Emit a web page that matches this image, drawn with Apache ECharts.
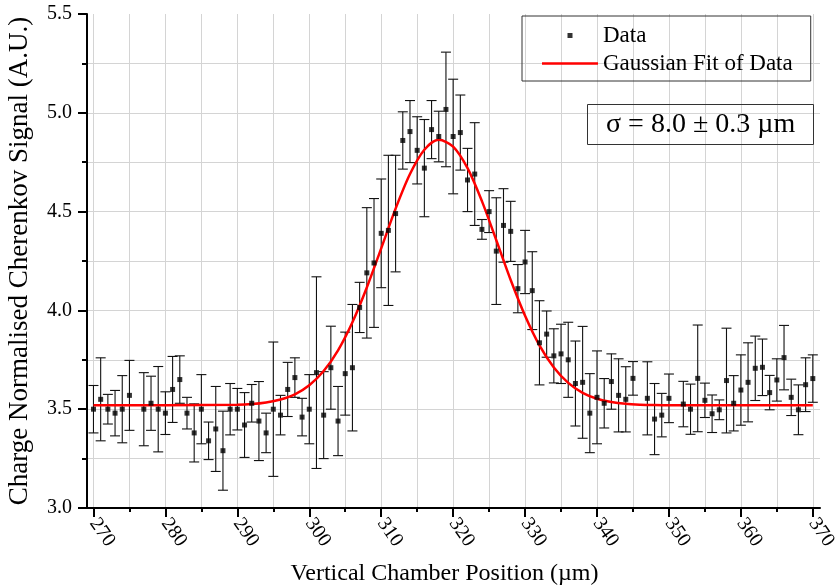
<!DOCTYPE html>
<html>
<head>
<meta charset="utf-8">
<script src="https://cdn.jsdelivr.net/npm/echarts@6/dist/echarts.min.js"></script>
<style>
html,body{margin:0;padding:0;background:#fff;}
#chart{width:835px;height:586px;}
</style>
</head>
<body>
<div id="chart"></div>
<script>
// Measured data: position (µm), normalised signal, error (±)
const positions = [
  270, 271, 272, 273, 274, 275, 277, 278, 279, 280,
  281, 282, 283, 284, 285, 286, 287, 288, 289, 290,
  291, 292, 293, 294, 295, 296, 297, 298, 299, 300,
  301, 302, 303, 304, 305, 306, 307, 308, 309, 310,
  311, 312, 313, 314, 315, 316, 317, 318, 319, 320,
  321, 322, 323, 324, 325, 326, 327, 328, 329, 330,
  331, 332, 333, 334, 335, 336, 337, 338, 339, 340,
  341, 342, 343, 344, 345, 347, 348, 349, 350, 352,
  353, 354, 355, 356, 357, 358, 359, 360, 361, 362,
  363, 364, 365, 366, 367, 368, 369, 370
];
const signal = [
  3.50, 3.55, 3.50, 3.48, 3.50, 3.57, 3.50, 3.53, 3.50, 3.48,
  3.60, 3.65, 3.48, 3.38, 3.50, 3.34, 3.40, 3.29, 3.50, 3.50,
  3.42, 3.53, 3.44, 3.38, 3.50, 3.47, 3.60, 3.66, 3.46, 3.50,
  3.685, 3.47, 3.71, 3.44, 3.68, 3.71, 4.015, 4.19, 4.24, 4.39,
  4.405, 4.49, 4.86, 4.905, 4.81, 4.72, 4.915, 4.88, 5.017, 4.88,
  4.90, 4.66, 4.69, 4.41, 4.50, 4.30, 4.43, 4.40, 4.11, 4.245,
  4.10, 3.836, 3.88, 3.77, 3.78, 3.75, 3.63, 3.636, 3.48, 3.56,
  3.53, 3.64, 3.57, 3.55, 3.656, 3.555, 3.45, 3.47, 3.555, 3.526,
  3.50, 3.656, 3.545, 3.477, 3.497, 3.645, 3.53, 3.597, 3.636, 3.707,
  3.712, 3.584, 3.648, 3.761, 3.56, 3.497, 3.624, 3.655
];
const errors = [
  0.12, 0.21, 0.075, 0.115, 0.17, 0.177, 0.185, 0.137, 0.216, 0.108,
  0.167, 0.12, 0.08, 0.147, 0.175, 0.095, 0.215, 0.2, 0.13, 0.105,
  0.164, 0.095, 0.2, 0.1, 0.34, 0.1, 0.137, 0.1, 0.095, 0.175,
  0.485, 0.22, 0.21, 0.175, 0.21, 0.32, 0.127, 0.33, 0.326, 0.275,
  0.38, 0.295, 0.145, 0.157, 0.17, 0.246, 0.147, 0.128, 0.29, 0.29,
  0.19, 0.16, 0.26, 0.05, 0.106, 0.27, 0.186, 0.152, 0.122, 0.16,
  0.197, 0.213, 0.117, 0.137, 0.15, 0.19, 0.215, 0.283, 0.2, 0.235,
  0.125, 0.14, 0.185, 0.165, 0.085, 0.185, 0.18, 0.11, 0.123, 0.115,
  0.127, 0.27, 0.087, 0.095, 0.05, 0.265, 0.14, 0.178, 0.2, 0.163,
  0.143, 0.087, 0.107, 0.163, 0.092, 0.126, 0.136, 0.12
];

// Gaussian fit curve
const fitX = [270, 280, 290, 292, 294, 296, 298, 300, 302, 304, 306, 308, 310, 312, 314, 316, 318,
              320, 322, 324, 326, 328, 330, 332, 334, 336, 338, 340, 342, 344, 346, 348, 350, 360, 370];
const fitY = [3.520, 3.520, 3.523, 3.526, 3.534, 3.549, 3.575, 3.621, 3.693, 3.798, 3.940, 4.116, 4.314, 4.515, 4.690, 4.813, 4.863,
              4.829, 4.720, 4.553, 4.355, 4.154, 3.973, 3.823, 3.711, 3.633, 3.583, 3.553, 3.536, 3.527, 3.523, 3.521, 3.520, 3.520, 3.520];

// Axis ticks
const xLabelTicks = [270, 280, 290, 300, 310, 320, 330, 340, 350, 360, 370];
const xGridTicks = [270, 275, 280, 285, 290, 295, 300, 305, 310, 315, 320, 325, 330, 335, 340, 345, 350, 355, 360, 365, 370];

const FONT = '"Liberation Serif", "Times New Roman", serif';

const pointData = positions.map((x, i) => [x, signal[i]]);
const errData = positions.map((x, i) => [x, signal[i] - errors[i], signal[i] + errors[i]]);
const fitData = fitX.map((x, i) => [x, fitY[i]]);

const chart = echarts.init(document.getElementById('chart'), null, {renderer: 'canvas'});

const gridColor = '#d4d4d4';

chart.setOption({
  animation: false,
  backgroundColor: '#fff',
  grid: {left: 87, right: 15, top: 14, bottom: 78, containLabel: false, outerBoundsMode: 'none'},
  title: {
    text: 'σ = 8.0 ± 0.3 µm',
    left: 587, top: 104,
    borderColor: '#333', borderWidth: 1,
    padding: [3, 19, 3, 19],
    textStyle: {fontFamily: FONT, fontSize: 28, fontWeight: 'normal', color: '#000', lineHeight: 35}
  },
  legend: {
    left: 522, top: 16,
    orient: 'vertical',
    borderColor: '#333', borderWidth: 1,
    padding: [8, 18, 6, 20],
    itemWidth: 56, itemHeight: 20, itemGap: 5,
    textStyle: {fontFamily: FONT, fontSize: 23, color: '#000', lineHeight: 20, height: 20},
    data: [
      {name: 'Data', icon: 'path://M0,0h0.01v0.01h-0.01z M56,20h-0.01v-0.01h0.01z M25.5,7.5h5v5h-5z', itemStyle: {color: '#000'}},
      {name: 'Gaussian Fit of Data', icon: 'path://M0,0h0.01v0.01h-0.01z M56,20h-0.01v-0.01h0.01z M0,8.8h56v2.4h-56z', itemStyle: {color: '#ff0000'}}
    ]
  },
  xAxis: [
    {
      type: 'value', min: 269.1, max: 371, position: 'bottom',
      axisLine: {show: true, lineStyle: {color: '#000', width: 2}},
      axisTick: {show: true, customValues: xGridTicks, length: 4, lineStyle: {color: '#000', width: 2}},
      axisLabel: {show: false},
      splitLine: {show: true, lineStyle: {color: gridColor, width: 1}}
    },
    {
      type: 'value', min: 269.1, max: 371, position: 'bottom',
      axisLine: {show: false},
      axisTick: {show: true, customValues: xLabelTicks, length: 9, lineStyle: {color: '#000', width: 2}},
      axisLabel: {show: true, customValues: xLabelTicks, rotate: -55, margin: 12,
                  fontFamily: FONT, fontSize: 20, color: '#000'},
      splitLine: {show: false},
      name: 'Vertical Chamber Position (µm)',
      nameLocation: 'middle', nameGap: 54,
      nameTextStyle: {fontFamily: FONT, fontSize: 24, color: '#000', padding: [0, 18, 0, 0]}
    }
  ],
  yAxis: {
    type: 'value', min: 3.0, max: 5.5, interval: 0.5,
    axisLine: {show: true, lineStyle: {color: '#000', width: 2}},
    axisTick: {show: true, length: 9, lineStyle: {color: '#000', width: 2}},
    minorTick: {show: true, splitNumber: 2, length: 5, lineStyle: {color: '#000', width: 2}},
    axisLabel: {margin: 15, fontFamily: FONT, fontSize: 20, color: '#000',
                formatter: v => v.toFixed(1)},
    splitLine: {show: true, showMaxLine: false, lineStyle: {color: gridColor, width: 1}},
    minorSplitLine: {show: true, lineStyle: {color: gridColor, width: 1}},
    name: 'Charge Normalised Cherenkov Signal (A.U.)',
    nameLocation: 'middle', nameGap: 54,
    nameTextStyle: {fontFamily: FONT, fontSize: 27, color: '#000'}
  },
  series: [
    {
      type: 'custom',
      name: 'errors',
      xAxisIndex: 0, yAxisIndex: 0,
      z: 2,
      silent: true,
      encode: {x: 0, y: [1, 2]},
      data: errData,
      renderItem: function (params, api) {
        const x = api.value(0), lo = api.value(1), hi = api.value(2);
        const pTop = api.coord([x, hi]);
        const pBot = api.coord([x, lo]);
        const w = 5;
        const st = {stroke: '#111', lineWidth: 1.1};
        return {
          type: 'group',
          children: [
            {type: 'line', shape: {x1: pTop[0], y1: pTop[1], x2: pBot[0], y2: pBot[1]}, style: st},
            {type: 'line', shape: {x1: pTop[0] - w, y1: pTop[1], x2: pTop[0] + w, y2: pTop[1]}, style: st},
            {type: 'line', shape: {x1: pBot[0] - w, y1: pBot[1], x2: pBot[0] + w, y2: pBot[1]}, style: st}
          ]
        };
      }
    },
    {
      type: 'line',
      name: 'Gaussian Fit of Data',
      xAxisIndex: 0, yAxisIndex: 0,
      z: 3,
      data: fitData,
      smooth: 0.3,
      symbol: 'none',
      lineStyle: {color: '#ff0000', width: 2.5},
      itemStyle: {color: '#ff0000'}
    },
    {
      type: 'scatter',
      name: 'Data',
      xAxisIndex: 0, yAxisIndex: 0,
      z: 4,
      data: pointData,
      symbol: 'rect',
      symbolSize: 5,
      itemStyle: {color: '#000'}
    }
  ]
});
</script>
</body>
</html>
